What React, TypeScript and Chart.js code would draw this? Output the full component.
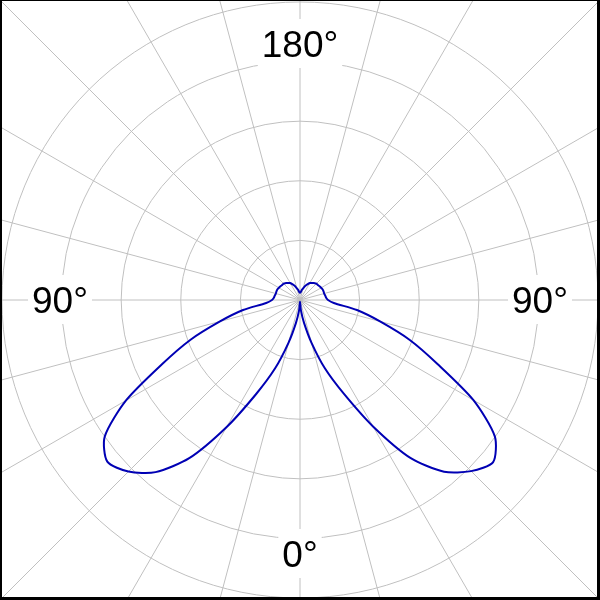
import React, { useEffect, useRef } from 'react';
import { Chart, registerables } from 'chart.js';

Chart.register(...registerables);

// Gamma angle step (degrees) of the measured intensity values
const gammaStep = 5;

// C-plane on the right half: gamma 0..180 (bottom -> top), step 5
const planeRight = [
  3, 17, 39, 74, 122, 173, 245, 324, 376, 406,
  423, 399, 336, 255, 196, 139, 97, 57, 47, 44,
  43, 42, 42, 42, 41, 40, 39, 39, 37, 35,
  33, 29, 25, 20, 17, 13, 12,
];

// C-plane on the left half: gamma 0..180 (bottom -> top), step 5
const planeLeft = [
  3, 17, 39, 74, 122, 174, 246, 324, 377, 407,
  422, 400, 337, 256, 196, 139, 97, 57, 47, 44,
  43, 42, 42, 42, 41, 40, 39, 39, 37, 35,
  33, 29, 25, 20, 17, 13, 12,
];

// Ring grid
const ringStep = 100;
const ringCount = 5;
const scaleMax = 713;

// Angle labels around the diagram (position given as clockwise angle from top)
const angleLabels = ['180°', '90°', '0°', '90°'];
const angleLabelPhi = [0, 90, 180, 270];
const angleLabelDist = [256, 240, 254, 240];

export default function App() {
  const ref = useRef<HTMLCanvasElement>(null);

  useEffect(() => {
    if (!ref.current) return;
    const n = 360 / gammaStep;
    const half = 180 / gammaStep;
    const labels = Array.from({ length: n }, (_, i) => String(i * gammaStep));
    const data = labels.map((_, i) => (i <= half ? planeRight[half - i] : planeLeft[i - half]));

    const textPlugin = {
      id: 'angleText',
      beforeDatasetsDraw(chart: any) {
        const s = chart.scales.r;
        const ctx = chart.ctx;
        ctx.save();
        ctx.font = '37px "Liberation Sans", Arial, sans-serif';
        angleLabels.forEach((t, k) => {
          const idx = angleLabelPhi[k] / gammaStep;
          const p = s.getPointPosition(idx, angleLabelDist[k]);
          const w = ctx.measureText(t).width;
          ctx.fillStyle = '#ffffff';
          ctx.fillRect(p.x - w / 2 - 4, p.y - 25, w + 8, 49);
          ctx.fillStyle = '#000000';
          ctx.textAlign = 'center';
          ctx.textBaseline = 'alphabetic';
          ctx.fillText(t, p.x, p.y + 13);
        });
        ctx.restore();
      },
    };

    const chart = new Chart(ref.current, {
      type: 'radar',
      data: {
        labels,
        datasets: [
          {
            data,
            borderColor: 'rgb(0,0,180)',
            borderWidth: 2,
            backgroundColor: 'transparent',
            fill: false,
            pointRadius: 0,
            pointHoverRadius: 0,
            tension: 0.25,
          },
        ],
      },
      options: {
        animation: false,
        responsive: false,
        events: [],
        layout: { padding: 0 },
        plugins: {
          legend: { display: false },
          tooltip: { enabled: false },
        },
        scales: {
          r: {
            min: 0,
            max: scaleMax,
            ticks: { display: false, stepSize: ringStep },
            pointLabels: { display: false },
            grid: {
              circular: true,
              lineWidth: 1,
              color: (c: any) =>
                c.tick && c.tick.value > 0 && c.tick.value <= ringStep * ringCount + 0.001
                  ? 'rgb(192,192,192)'
                  : 'rgba(0,0,0,0)',
            },
            angleLines: {
              display: true,
              lineWidth: 1,
              color: (c: any) => ((c.index * gammaStep) % 15 === 0 ? 'rgb(192,192,192)' : 'rgba(0,0,0,0)'),
            },
          },
        },
      },
      plugins: [textPlugin],
    });
    return () => chart.destroy();
  }, []);

  return (
    <div
      style={{
        position: 'fixed',
        left: 0,
        top: 0,
        width: 600,
        height: 600,
        overflow: 'hidden',
        background: '#ffffff',
      }}
    >
      <canvas
        ref={ref}
        width={850}
        height={850}
        style={{ position: 'absolute', left: -125, top: -125, width: 850, height: 850 }}
      />
      <div
        style={{
          position: 'absolute',
          left: 0,
          top: 0,
          width: 600,
          height: 600,
          boxSizing: 'border-box',
          borderStyle: 'solid',
          borderColor: '#000000',
          borderWidth: '1px 3px 3px 2px',
          pointerEvents: 'none',
        }}
      />
    </div>
  );
}
